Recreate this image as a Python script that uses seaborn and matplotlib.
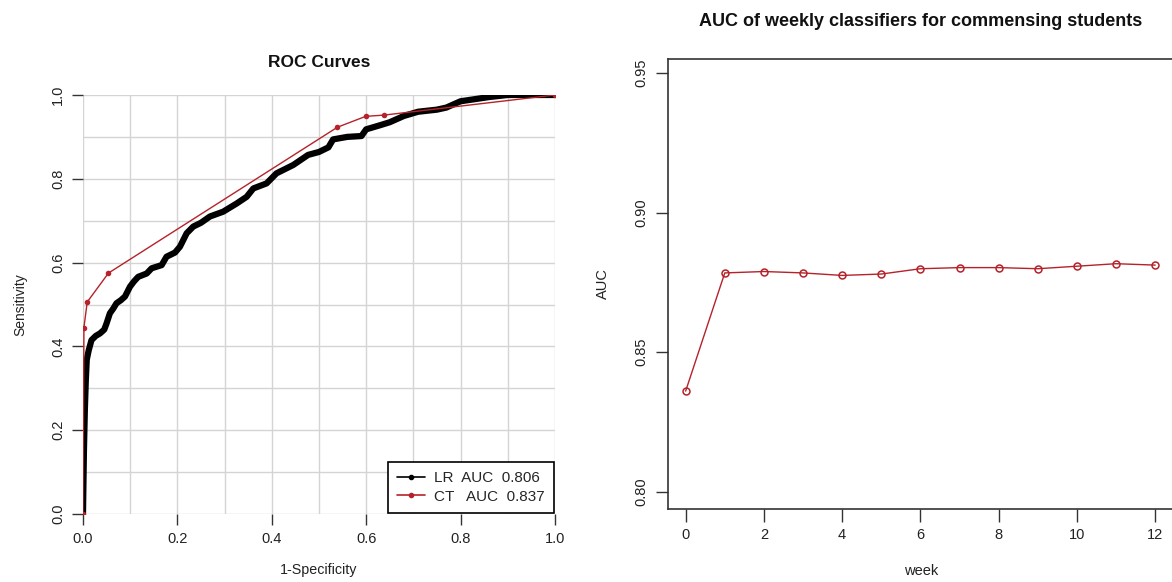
import matplotlib
matplotlib.use('Agg')
import matplotlib.pyplot as plt
from matplotlib.lines import Line2D
import pandas as pd
import seaborn as sns

# ROC curve, logistic regression
lr_fpr = [0.0, 0.002, 0.004, 0.006, 0.008, 0.012, 0.018, 0.027, 0.036, 0.045, 0.050, 0.057,
          0.064, 0.071, 0.080, 0.089, 0.0996, 0.108, 0.117, 0.135, 0.1455, 0.1667, 0.177,
          0.195, 0.2055, 0.2197, 0.2337, 0.25, 0.269, 0.297, 0.3256, 0.3468, 0.361, 0.389,
          0.410, 0.4456, 0.477, 0.50, 0.52, 0.53, 0.56, 0.59, 0.60, 0.63, 0.65, 0.68, 0.71,
          0.75, 0.77, 0.80, 0.83, 0.86, 0.90, 1.0]
lr_tpr = [0.0, 0.15, 0.25, 0.32, 0.368, 0.39, 0.415, 0.425, 0.431, 0.44, 0.455, 0.479,
          0.49, 0.503, 0.51, 0.519, 0.5425, 0.555, 0.566, 0.574, 0.5864, 0.594, 0.614,
          0.624, 0.638, 0.670, 0.686, 0.695, 0.710, 0.7215, 0.741, 0.757, 0.777, 0.789,
          0.813, 0.833, 0.857, 0.864, 0.875, 0.894, 0.90, 0.902, 0.918, 0.928, 0.935, 0.95,
          0.96, 0.965, 0.97, 0.985, 0.99, 0.995, 1.0, 1.0]

# ROC curve, classification tree
ct_fpr = [0.0, 0.002, 0.009, 0.054, 0.539, 0.599, 0.638, 1.0]
ct_tpr = [0.0, 0.445, 0.506, 0.575, 0.923, 0.949, 0.952, 1.0]

legend_labels = ['LR  AUC  0.806', 'CT   AUC  0.837']

# weekly AUC
weeks = [0, 1, 2, 3, 4, 5, 6, 7, 8, 9, 10, 11, 12]
auc = [0.8361, 0.8784, 0.8789, 0.8784, 0.8775, 0.8780, 0.8799, 0.8803, 0.8803,
       0.8799, 0.8808, 0.8817, 0.8812]

red = '#b5222a'
sns.set_style('white')
plt.rcParams['font.family'] = ['Liberation Sans', 'DejaVu Sans']

fig = plt.figure(figsize=(11.72, 5.82), dpi=100)
ax1 = fig.add_axes([0.0708, 0.1168, 0.4027, 0.72])
ax2 = fig.add_axes([0.570, 0.126, 0.4317, 0.7727])

# left panel
df_lr = pd.DataFrame({'fpr': lr_fpr, 'tpr': lr_tpr})
df_ct = pd.DataFrame({'fpr': ct_fpr, 'tpr': ct_tpr})
sns.lineplot(data=df_lr, x='fpr', y='tpr', ax=ax1, color='black', lw=4.5,
             estimator=None, sort=False, zorder=3)
sns.lineplot(data=df_ct, x='fpr', y='tpr', ax=ax1, color=red, lw=1,
             marker='o', markersize=4, markeredgewidth=0, estimator=None, sort=False, zorder=4)
ax1.set_xlim(0, 1)
ax1.set_ylim(0, 1)
ax1.set_xticks([i / 10 for i in range(11)], minor=True)
ax1.set_yticks([i / 10 for i in range(11)], minor=True)
ax1.set_xticks([0, 0.2, 0.4, 0.6, 0.8, 1.0])
ax1.set_yticks([0, 0.2, 0.4, 0.6, 0.8, 1.0])
ax1.set_xticklabels(['0.0', '0.2', '0.4', '0.6', '0.8', '1.0'])
ax1.set_yticklabels(['0.0', '0.2', '0.4', '0.6', '0.8', '1.0'], rotation=90, va='center')
ax1.grid(True, which='both', color='#d4d4d4', lw=1)
ax1.tick_params(which='minor', length=0)
ax1.tick_params(which='major', direction='out', length=8, width=1, color='#333333',
                labelsize=10.5, labelcolor='#222222', pad=5, left=True, bottom=True)
for s in ax1.spines.values():
    s.set_visible(False)
ax1.set_title('ROC Curves', fontsize=12.5, fontweight='bold', pad=20, color='#111111')
ax1.set_xlabel('1-Specificity', fontsize=10.3, labelpad=12, color='#222222')
ax1.set_ylabel('Sensitivity', fontsize=10, labelpad=17, color='#222222')
handles = [Line2D([], [], color='black', lw=1.2, marker='o', markersize=3),
           Line2D([], [], color=red, lw=1.2, marker='o', markersize=3)]
leg = ax1.legend(handles, legend_labels, loc='lower right', bbox_to_anchor=(0.997, 0.003),
                 borderaxespad=0, fancybox=False, framealpha=1, edgecolor='black',
                 fontsize=11, handlelength=1.8, handletextpad=0.6, borderpad=0.6,
                 labelspacing=0.3)
leg.get_frame().set_linewidth(1.2)

# right panel
df_w = pd.DataFrame({'week': weeks, 'auc': auc})
sns.lineplot(data=df_w, x='week', y='auc', ax=ax2, color=red, lw=1, marker='o',
             markersize=5, markerfacecolor='none', markeredgecolor=red, markeredgewidth=1.1)
ax2.set_xlim(-0.45, 12.48)
ax2.set_ylim(0.794, 0.955)
ax2.set_xticks([0, 2, 4, 6, 8, 10, 12])
ax2.set_yticks([0.80, 0.85, 0.90, 0.95])
ax2.set_yticklabels(['0.80', '0.85', '0.90', '0.95'], rotation=90, va='center')
ax2.tick_params(direction='out', length=9, width=1, color='#333333',
                labelsize=10.5, labelcolor='#222222', pad=5, left=True, bottom=True)
for s in ax2.spines.values():
    s.set_color('#333333')
    s.set_linewidth(1.2)
ax2.set_title('AUC of weekly classifiers for commensing students', fontsize=13,
              fontweight='bold', pad=24, color='#111111')
ax2.set_xlabel('week', fontsize=10.5, labelpad=16, color='#222222')
ax2.set_ylabel('AUC', fontsize=10.5, labelpad=18, color='#222222')

fig.savefig('out.png', dpi=100)
